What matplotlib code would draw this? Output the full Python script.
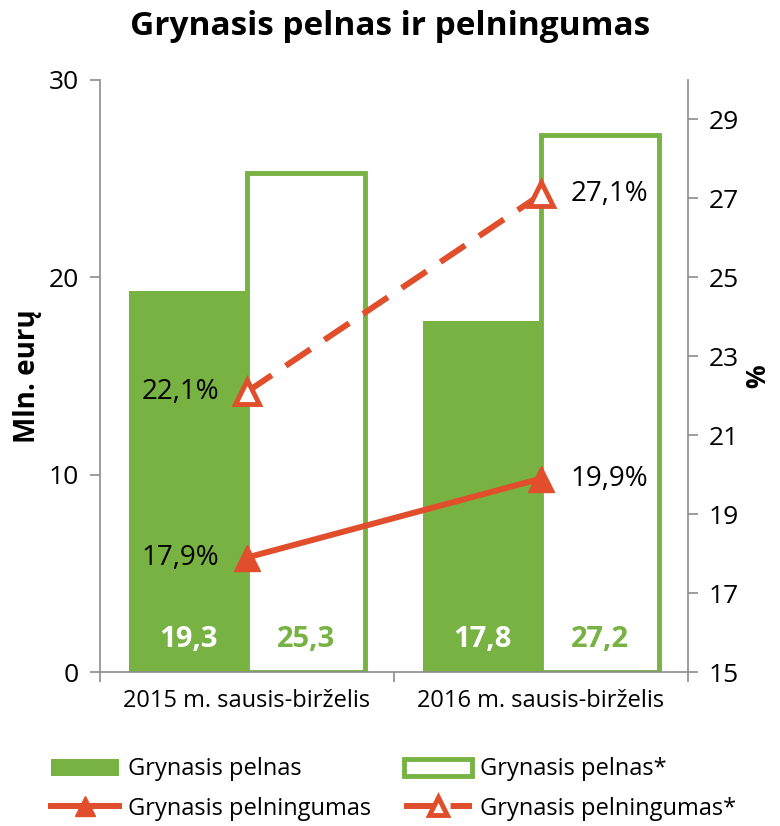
import matplotlib.pyplot as plt
import numpy as np

categories = ['2015 m. sausis-birželis', '2016 m. sausis-birželis']
pelnas = [19.3, 17.8]
pelnas_star = [25.3, 27.2]
pelningumas = [17.9, 19.9]
pelningumas_star = [22.1, 27.1]

GREEN = '#77b243'
RED = '#e04e2b'
GREY = '#8c8c8c'

plt.rcParams['font.family'] = ['Open Sans', 'DejaVu Sans']

fig = plt.figure(figsize=(7.8, 8.26), dpi=100)
ax = fig.add_axes([100 / 780, 154 / 826, 588 / 780, 592 / 826])
ax2 = ax.twinx()

x = np.arange(len(categories))
w = 0.4
b1 = ax.bar(x - w / 2, pelnas, w, color=GREEN, label='Grynasis pelnas', zorder=2)
b2 = ax.bar(x + w / 2, pelnas_star, w, color='white', edgecolor=GREEN, linewidth=3.5,
            label='Grynasis pelnas*', zorder=2)

def fmt(v, pct=False):
    return f'{v:.1f}'.replace('.', ',') + ('%' if pct else '')

for xi, v in zip(x, pelnas):
    ax.text(xi - w / 2, 0.9, fmt(v), ha='center', va='bottom',
            color='white', fontsize=21, fontweight='bold', zorder=3)
for xi, v in zip(x, pelnas_star):
    ax.text(xi + w / 2, 0.9, fmt(v), ha='center', va='bottom',
            color=GREEN, fontsize=21, fontweight='bold', zorder=3)

l1, = ax2.plot(x, pelningumas, color=RED, lw=4.3, marker='^', ms=19,
               label='Grynasis pelningumas', zorder=5)
l2, = ax2.plot(x, pelningumas_star, color=RED, lw=4.3, ls=(0, (5, 2.8)), marker='^', ms=17,
               mfc='white', mec=RED, mew=3.5, label='Grynasis pelningumas*', zorder=5)

offsets = [(-0.095, 'right'), (0.1, 'left')]
for i, (dx, ha) in enumerate(offsets):
    ax2.text(x[i] + dx, pelningumas[i], fmt(pelningumas[i], True),
             ha=ha, va='center', fontsize=20, zorder=6)
    ax2.text(x[i] + dx, pelningumas_star[i], fmt(pelningumas_star[i], True),
             ha=ha, va='center', fontsize=20, zorder=6)

ax.set_xlim(-0.5, 1.5)
ax.set_ylim(0, 30)
ax.set_yticks([0, 10, 20, 30])
ax2.set_ylim(15, 30)
ax2.set_yticks(range(15, 30, 2))
ax.set_xticks(x)
ax.set_xticklabels(categories, fontsize=17)
ax.set_xticks([-0.5, 0.5, 1.5], minor=True)
ax.tick_params(axis='x', which='major', length=0, pad=12)
ax.tick_params(axis='x', which='minor', length=7, color=GREY, width=1.2)
ax.tick_params(axis='y', labelsize=19, length=7, color=GREY, width=1.2, pad=8)
ax2.tick_params(axis='y', labelsize=19, length=7, color=GREY, width=1.2, pad=8)

for a in (ax, ax2):
    a.spines['top'].set_visible(False)
    for s in ('left', 'right', 'bottom'):
        a.spines[s].set_color(GREY)
        a.spines[s].set_linewidth(1.2)
ax.spines['right'].set_visible(False)
ax2.spines['left'].set_visible(False)
ax2.spines['bottom'].set_visible(False)

ax.set_ylabel('Mln. eurų', fontsize=20, fontweight='bold', labelpad=5)
ax2.set_ylabel('%', fontsize=19, fontweight='bold', labelpad=4)

fig.suptitle('Grynasis pelnas ir pelningumas', fontsize=24, fontweight='bold', y=0.988)

fig.legend(handles=[b1, l1, b2, l2], ncol=2, loc='lower left', bbox_to_anchor=(0.05, -0.008),
           frameon=False, fontsize=17, handlelength=2.9, handleheight=0.75, markerscale=0.75,
           columnspacing=1.4, handletextpad=0.35, labelspacing=0.65, borderpad=0)

fig.savefig('out.png', dpi=100)
